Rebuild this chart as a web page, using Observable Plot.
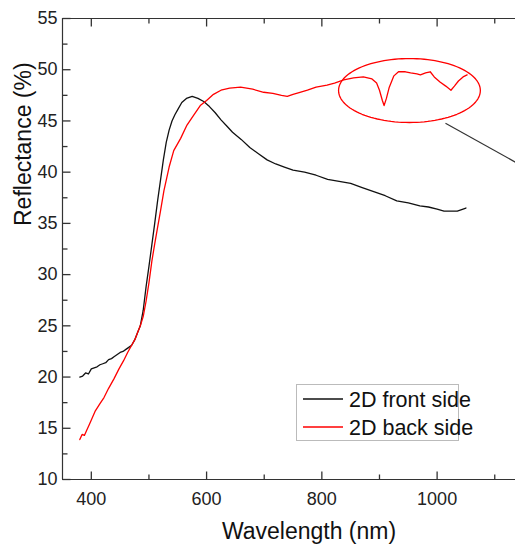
<!DOCTYPE html>
<html>
<head>
<meta charset="utf-8">
<script src="https://cdn.jsdelivr.net/npm/d3@7"></script>
<script src="https://cdn.jsdelivr.net/npm/@observablehq/plot@0.6"></script>
<style>
  html, body { margin: 0; padding: 0; background: white; }
  #chart { width: 515px; height: 546px; overflow: hidden; }
</style>
</head>
<body>
<div id="chart"></div>
<script>
// Front side (black) — wavelength (nm) and reflectance (%)
const frontWl = [380,385,390,395,400,405,410,415,420,425,430,435,440,445,450,455,460,465,470,475,480,485,490,495,500,505,510,515,520,525,530,535,540,545,550,557,565,575,585,595,605,615,625,635,645,660,675,690,705,720,735,750,770,790,810,830,850,870,890,910,930,950,970,985,1000,1012,1025,1035,1045,1050];
const frontR  = [20.0,20.1,20.4,20.3,20.8,20.9,21.0,21.2,21.3,21.4,21.7,21.8,22.0,22.2,22.4,22.5,22.7,22.9,23.1,23.6,24.3,25.0,26.5,28.8,30.8,32.9,35.0,37.2,39.2,41.2,42.9,44.1,45.0,45.6,46.1,46.8,47.2,47.4,47.2,46.9,46.4,45.8,45.1,44.5,43.9,43.2,42.4,41.8,41.2,40.8,40.5,40.2,40.0,39.7,39.3,39.1,38.9,38.5,38.1,37.7,37.2,37.0,36.7,36.6,36.4,36.2,36.2,36.2,36.4,36.5];

// Back side (red)
const backWl = [380,384,388,392,396,400,407,415,422,430,439,448,456,463,470,476,480,485,490,495,500,505,510,515,520,526,535,543,555,566,578,589,600,612,625,640,659,680,699,715,730,740,750,762,775,790,809,822,838,855,872,887,895,900,905,908,912,917,925,933,945,954,965,971,980,988,995,1005,1015,1024,1030,1037,1045,1052];
const backR  = [13.9,14.4,14.3,14.8,15.3,15.8,16.7,17.4,18.0,18.9,19.8,20.8,21.6,22.4,23.1,23.7,24.3,25.0,25.9,27.4,29.2,31.3,33.0,34.6,36.2,38.2,40.5,42.1,43.3,44.6,45.6,46.5,47.0,47.6,48.0,48.2,48.3,48.1,47.8,47.7,47.5,47.4,47.6,47.8,48.0,48.3,48.5,48.7,49.0,49.2,49.3,49.1,48.7,48.0,47.0,46.5,47.2,48.3,49.4,49.8,49.8,49.7,49.6,49.5,49.7,49.8,49.3,48.8,48.4,48.0,48.4,48.9,49.3,49.5];

const seriesNames = ["2D front side", "2D back side"];
const seriesColors = ["#111111", "#ff0000"];

// Axis ticks
const xMajorTicks = [400, 600, 800, 1000];
const xMinorTicks = [500, 700, 900, 1100];
const yMajorTicks = [10, 15, 20, 25, 30, 35, 40, 45, 50, 55];
const yMinorTicks = [12.5, 17.5, 22.5, 27.5, 32.5, 37.5, 42.5, 47.5, 52.5];
const xDomain = [350, 1136];
const yDomain = [10, 55];

// Annotation: ellipse around the dips, and a leader line
const ellipseCenter = [952, 47.97];
const ellipseRadii = [123, 3.12];
const leaderFrom = [1014.5, 44.78];
const leaderTo = [1136, 40.97];

const front = frontWl.map((w, i) => ({w, r: frontR[i]}));
const back = backWl.map((w, i) => ({w, r: backR[i]}));
const ellipse = d3.range(0, 361, 3).map(a => ({
  w: ellipseCenter[0] + ellipseRadii[0] * Math.cos(a * Math.PI / 180),
  r: ellipseCenter[1] + ellipseRadii[1] * Math.sin(a * Math.PI / 180)
}));

const W = 515, H = 546, mL = 62, mR = 0, mT = 18, mB = 67;
const majorLen = 8, minorLen = 5;
const axisColor = "#333";
const fmt = d => String(d);

// tick lengths converted from pixels to data units
const yPerPx = (yDomain[1] - yDomain[0]) / (H - mT - mB);
const xPerPx = (xDomain[1] - xDomain[0]) / (W - mL - mR);
const xTickSegs = [];
[[xMajorTicks, majorLen], [xMinorTicks, minorLen]].forEach(([ticks, len]) => ticks.forEach(t => {
  xTickSegs.push({x1: t, x2: t, y1: yDomain[0], y2: yDomain[0] + len * yPerPx});
  xTickSegs.push({x1: t, x2: t, y1: yDomain[1], y2: yDomain[1] - len * yPerPx});
}));
const yTickSegs = [];
[[yMajorTicks, majorLen], [yMinorTicks, minorLen]].forEach(([ticks, len]) => ticks.forEach(t => {
  yTickSegs.push({x1: xDomain[0], x2: xDomain[0] + len * xPerPx, y1: t, y2: t});
}));

const plot = Plot.plot({
  width: W,
  height: H,
  marginLeft: mL,
  marginRight: mR,
  marginTop: mT,
  marginBottom: mB,
  style: {fontFamily: "'Liberation Sans', Arial, sans-serif", fontSize: "18px", background: "white", color: "#222"},
  x: {domain: xDomain},
  y: {domain: yDomain},
  marks: [
    // frame (left, top, bottom)
    Plot.ruleX([xDomain[0]], {stroke: axisColor, strokeWidth: 1.2}),
    Plot.ruleY(yDomain, {stroke: axisColor, strokeWidth: 1.2}),
    // inward ticks
    Plot.link(xTickSegs, {x1: "x1", x2: "x2", y1: "y1", y2: "y2", stroke: axisColor, strokeWidth: 1.3}),
    Plot.link(yTickSegs, {x1: "x1", x2: "x2", y1: "y1", y2: "y2", stroke: axisColor, strokeWidth: 1.3}),
    // tick labels
    Plot.axisX(xMajorTicks, {anchor: "bottom", tickSize: 0, tickPadding: 13, tickFormat: fmt, fill: "#222", label: null}),
    Plot.axisY(yMajorTicks, {anchor: "left", tickSize: 0, tickPadding: 5, tickFormat: fmt, fill: "#222", label: null}),
    // axis titles
    Plot.text(["Wavelength (nm)"], {frameAnchor: "bottom", dx: 20, dy: 52, fontSize: 23, fill: "#111", lineAnchor: "middle"}),
    Plot.text(["Reflectance (%)"], {frameAnchor: "left", dx: -39, dy: -23, rotate: -90, fontSize: 23, fill: "#111", lineAnchor: "middle"}),
    // data
    Plot.line(front, {x: "w", y: "r", stroke: seriesColors[0], strokeWidth: 1.3}),
    Plot.line(back, {x: "w", y: "r", stroke: seriesColors[1], strokeWidth: 1.3}),
    // annotations
    Plot.line(ellipse, {x: "w", y: "r", stroke: "#ff0000", strokeWidth: 1.3, curve: "linear"}),
    Plot.link([{x1: leaderFrom[0], y1: leaderFrom[1], x2: leaderTo[0], y2: leaderTo[1]}], {x1: "x1", y1: "y1", x2: "x2", y2: "y2", stroke: "#333", strokeWidth: 1.2})
  ]
});

// Legend inside the plot
const svg = d3.select(plot);
const lg = svg.append("g").attr("class", "legend").attr("text-anchor", "start");
lg.append("rect").attr("x", 296.5).attr("y", 384.5).attr("width", 162).attr("height", 56)
  .attr("fill", "white").attr("stroke", "#bbb").attr("stroke-width", 1);
seriesNames.forEach((name, i) => {
  const cy = 399 + i * 28;
  lg.append("line").attr("x1", 303).attr("x2", 343).attr("y1", cy).attr("y2", cy)
    .attr("stroke", seriesColors[i]).attr("stroke-width", 1.3);
  lg.append("text").attr("x", 349).attr("y", cy).attr("dy", "0.36em")
    .attr("text-anchor", "start")
    .attr("font-size", 21.5).attr("fill", "#111").text(name);
});

document.getElementById("chart").appendChild(plot);
</script>
</body>
</html>
